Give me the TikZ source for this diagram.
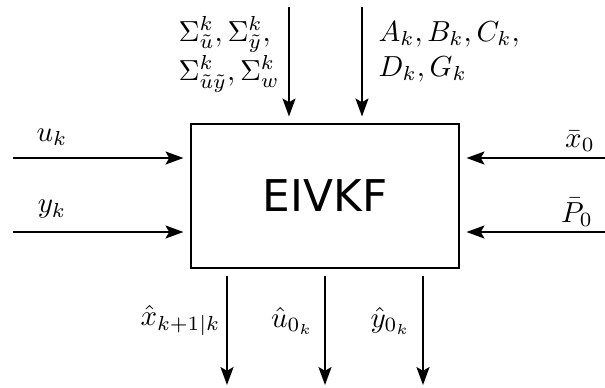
\documentclass[tikz,border=0pt]{standalone}
\usepackage{fontspec}
\newfontfamily\boxfont{DejaVu Sans}
\usetikzlibrary{arrows.meta}
\begin{document}
\begin{tikzpicture}[x=0.345pt,y=-0.345pt,
  conn/.style={line width=0.65pt,-{Stealth[length=6.2pt,width=4.5pt,inset=1.3pt]}},
  lbl/.style={inner sep=0pt},
  blockbox/.style={draw,line width=0.95pt,minimum width=92.46pt,minimum height=49.68pt,
    inner sep=0pt,outer sep=0pt,font=\boxfont\fontsize{15.1}{18}\selectfont}]
\useasboundingbox (0,0) rectangle (605,387);
\node[blockbox] (box) at (325,196) {EIVKF};
% free ends
\coordinate (uin) at (13,158);
\coordinate (yin) at (13,232);
\coordinate (xin) at (605,158);
\coordinate (pin) at (605,232);
\coordinate (sin) at (289,7);
\coordinate (ain) at (362,7);
\coordinate (xout) at (227,385);
\coordinate (uout) at (325,385);
\coordinate (yout) at (423,385);
% connectors
\draw[conn,shorten >=2.6pt] (uin) -- (uin -| box.west);
\draw[conn,shorten >=2.6pt] (yin) -- (yin -| box.west);
\draw[conn,shorten >=2.6pt] (xin) -- (xin -| box.east);
\draw[conn,shorten >=2.6pt] (pin) -- (pin -| box.east);
\draw[conn,shorten >=2.6pt] (sin) -- (sin |- box.north);
\draw[conn,shorten >=2.6pt] (ain) -- (ain |- box.north);
\draw[conn,shorten <=2.6pt] (box.south -| xout) -- (xout);
\draw[conn,shorten <=2.6pt] (box.south -| uout) -- (uout);
\draw[conn,shorten <=2.6pt] (box.south -| yout) -- (yout);
% labels
\node[lbl,anchor=south] (lu) at (52,146) {$u_k$};
\node[lbl,anchor=south] (ly) at (52,219) {$y_k$};
\node[lbl,anchor=south] (lx0) at (580,152) {$\bar{x}_0$};
\node[lbl,anchor=south] (lp0) at (577,227) {$\bar{P}_0$};
\node[lbl,anchor=north west,align=left] (lsig) at (178,16)
  {$\Sigma^k_{\tilde{u}},\Sigma^k_{\tilde{y}},$\\$\Sigma^k_{\tilde{u}\tilde{y}},\Sigma^k_w$};
\node[lbl,anchor=north west,align=left] (lmat) at (378,21)
  {$A_k,B_k,C_k,$\\$D_k,G_k$};
\node[lbl,anchor=base east] (lxh) at (221,325) {$\hat{x}_{k+1|k}$};
\node[lbl,anchor=base east] (luh) at (314,327) {$\hat{u}_{0_k}$};
\node[lbl,anchor=base east] (lyh) at (411,327) {$\hat{y}_{0_k}$};
\end{tikzpicture}
\end{document}
